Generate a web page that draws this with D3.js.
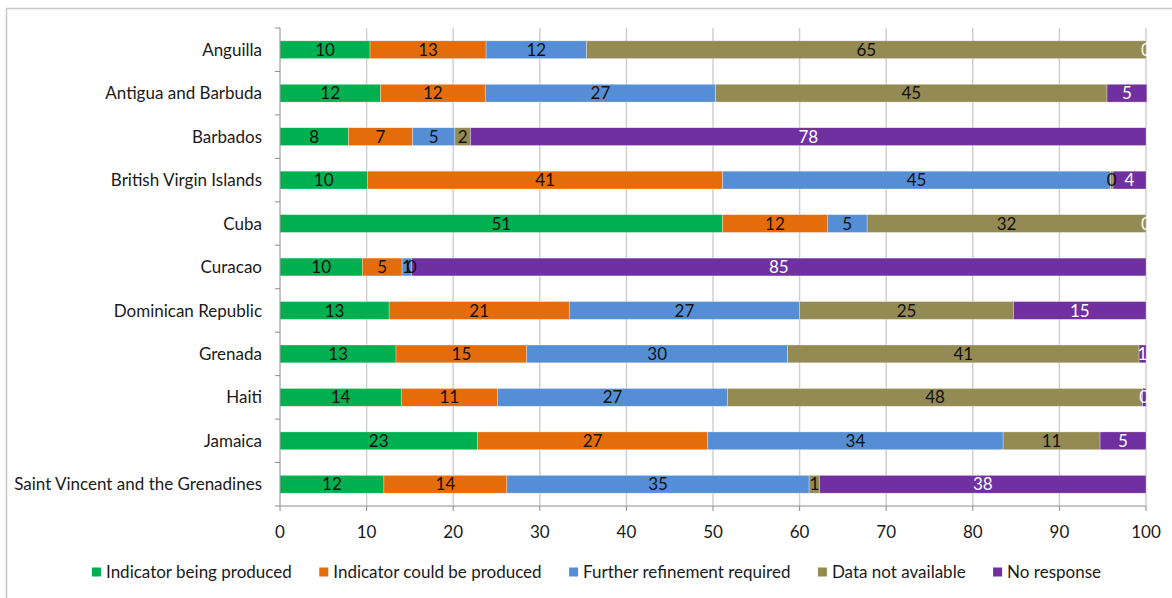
<!DOCTYPE html>
<html>
<head>
<meta charset="utf-8">
<script src="https://cdn.jsdelivr.net/npm/d3@7"></script>
<style>
  html, body { margin: 0; padding: 0; background: #fff; }
  svg { display: block; }
  text { font-family: Lato, "Open Sans", sans-serif; }
</style>
</head>
<body>
<svg id="chart" width="1172" height="598"></svg>
<script>
// ---- Data ----
const categories = [
  "Anguilla", "Antigua and Barbuda", "Barbados", "British Virgin Islands", "Cuba",
  "Curacao", "Dominican Republic", "Grenada", "Haiti", "Jamaica",
  "Saint Vincent and the Grenadines"
];
const seriesNames = [
  "Indicator being produced", "Indicator could be produced", "Further refinement required",
  "Data not available", "No response"
];
const produced     = [10.4, 11.6,  7.9, 10.1, 51.1, 9.5, 12.6, 13.4, 14.0, 22.8, 12.0];
const couldBe      = [13.4, 12.1,  7.4, 41.0, 12.1, 4.6, 20.8, 15.1, 11.1, 26.6, 14.2];
const refinement   = [11.6, 26.6,  4.9, 44.8,  4.6, 1.1, 26.6, 30.1, 26.6, 34.1, 34.9];
const notAvailable = [64.6, 45.2,  1.8,  0.3, 32.2, 0.0, 24.7, 40.6, 47.9, 11.2,  1.2];
const noResponse   = [ 0.0,  4.6, 78.0,  3.8,  0.0, 84.8, 15.3, 0.8,  0.4,  5.3, 37.7];
const xTicks = [0, 10, 20, 30, 40, 50, 60, 70, 80, 90, 100];

const seriesValues = [produced, couldBe, refinement, notAvailable, noResponse];
const colors = ["#00b050", "#e46c0a", "#558ed5", "#948a54", "#7030a0"];
const labelColors = ["#111", "#111", "#111", "#111", "#fff"];

// ---- Layout ----
const svg = d3.select("#chart");
const pLeft = 280, pRight = 1146, pTop = 28, pBottom = 506;
const FS = 17;

// frame
svg.append("rect").attr("x", 6.5).attr("y", 8.5).attr("width", 1200).attr("height", 700)
  .attr("fill", "none").attr("stroke", "#c8c8c8").attr("stroke-width", 1.5);

const x = d3.scaleLinear().domain([0, 100]).range([pLeft, pRight]);
const y = d3.scaleBand().domain(categories).range([pTop, pBottom])
  .paddingInner(0.59).paddingOuter(0.295);

// gridlines
svg.append("g").selectAll("line").data(xTicks.filter(d => d > 0)).join("line")
  .attr("x1", d => x(d)).attr("x2", d => x(d))
  .attr("y1", pTop).attr("y2", pBottom)
  .attr("stroke", "#d0d0d0").attr("stroke-width", 1.5);

// stacked data
const rows = categories.map((c, i) => {
  const o = { cat: c, idx: i };
  seriesNames.forEach((s, j) => o[s] = seriesValues[j][i]);
  return o;
});
const stack = d3.stack().keys(seriesNames)(rows);

svg.append("defs").append("clipPath").attr("id", "plotclip")
  .append("rect").attr("x", pLeft).attr("y", pTop).attr("width", pRight - pLeft + 1).attr("height", pBottom - pTop);

const gBars = svg.append("g");
stack.forEach((layer, j) => {
  gBars.append("g").attr("fill", colors[j])
    .selectAll("rect").data(layer).join("rect")
    .attr("x", d => x(d[0]))
    .attr("y", d => y(d.data.cat))
    .attr("width", d => Math.max(0, x(d[1]) - x(d[0])))
    .attr("height", y.bandwidth())
    .attr("stroke", "#ffffff").attr("stroke-opacity", 0.5).attr("stroke-width", 0.6);
});

// labels
const gLab = svg.append("g").attr("clip-path", "url(#plotclip)");
stack.forEach((layer, j) => {
  gLab.append("g").selectAll("text").data(layer).join("text")
    .attr("x", d => x((d[0] + d[1]) / 2))
    .attr("y", d => y(d.data.cat) + y.bandwidth() / 2)
    .attr("dy", "0.36em")
    .attr("text-anchor", "middle")
    .attr("font-size", FS)
    .attr("fill", labelColors[j])
    .text(d => Math.round(seriesValues[j][d.data.idx]));
});

// y axis
const yAxis = svg.append("g");
yAxis.append("line").attr("x1", pLeft).attr("x2", pLeft).attr("y1", pTop).attr("y2", pBottom)
  .attr("stroke", "#8c8c8c").attr("stroke-width", 1);
const boundaries = d3.range(categories.length + 1).map(i => pTop + i * y.step());
yAxis.selectAll("line.tk").data(boundaries).join("line").attr("class", "tk")
  .attr("x1", pLeft - 5).attr("x2", pLeft).attr("y1", d => d).attr("y2", d => d)
  .attr("stroke", "#8c8c8c");
yAxis.selectAll("text").data(categories).join("text")
  .attr("x", 262).attr("y", d => y(d) + y.bandwidth() / 2).attr("dy", "0.36em")
  .attr("text-anchor", "end").attr("font-size", FS).attr("fill", "#1a1a1a")
  .text(d => d);

// x axis
const xAxis = svg.append("g");
xAxis.append("line").attr("x1", pLeft).attr("x2", pRight).attr("y1", pBottom).attr("y2", pBottom)
  .attr("stroke", "#8c8c8c");
xAxis.selectAll("line.tk").data(xTicks).join("line").attr("class", "tk")
  .attr("x1", d => x(d)).attr("x2", d => x(d)).attr("y1", pBottom).attr("y2", pBottom + 5)
  .attr("stroke", "#8c8c8c");
xAxis.selectAll("text").data(xTicks).join("text")
  .attr("x", d => x(d)).attr("y", 532).attr("dy", "0.36em")
  .attr("text-anchor", "middle").attr("font-size", FS).attr("fill", "#1a1a1a")
  .text(d => d);

// legend
const leg = svg.append("g");
const items = leg.selectAll("g").data(seriesNames).join("g");
items.append("rect").attr("width", 9).attr("height", 9).attr("y", 572 - 4.5)
  .attr("fill", (d, i) => colors[i]);
items.append("text").attr("x", 14).attr("y", 572).attr("dy", "0.36em")
  .attr("font-size", FS).attr("fill", "#1a1a1a").text(d => d);
const widths = [];
items.each(function () { widths.push(14 + d3.select(this).select("text").node().getComputedTextLength()); });
const legStart = 92, legEnd = 1101;
const gap = (legEnd - legStart - d3.sum(widths)) / (widths.length - 1);
let cx = legStart;
items.each(function (d, i) {
  d3.select(this).attr("transform", `translate(${cx},0)`);
  cx += widths[i] + gap;
});
</script>
</body>
</html>
